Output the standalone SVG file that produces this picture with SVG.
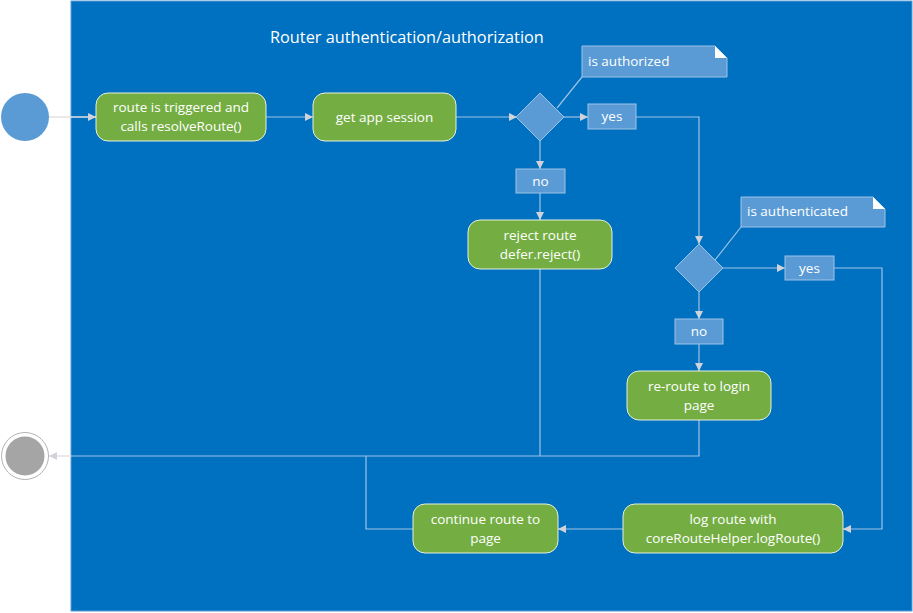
<svg xmlns="http://www.w3.org/2000/svg" width="913" height="613" viewBox="0 0 913 613">
<defs>
<marker id="arr" viewBox="0 0 10 10" refX="10" refY="5" markerWidth="8" markerHeight="8" markerUnits="userSpaceOnUse" orient="auto">
<path d="M0,0 L10,5 L0,10 z" fill="#D0D4DA"/>
</marker>
<style>
text{font-family:"Open Sans","Noto Sans","Liberation Sans",sans-serif;fill:#ffffff;}
.t{font-size:13.5px;text-anchor:middle;}
.n{font-size:13.5px;}
.act{fill:#74AE42;stroke:#E6F0DE;stroke-width:1;}
.dec{fill:#5B9BD5;stroke:#9DC3E6;stroke-width:1;}
.lbl{fill:#5B9BD5;stroke:#9DC3E6;stroke-width:1;}
.c{fill:none;stroke:#9DC3E6;stroke-width:1.2;}
.ca{fill:none;stroke:#9DC3E6;stroke-width:1.2;marker-end:url(#arr);}
</style>
</defs>
<rect x="0" y="0" width="913" height="613" fill="#ffffff"/>
<rect id="panel" x="71" y="1" width="841" height="610" fill="#0070C0" stroke="#5B9BD5" stroke-width="1"/>
<text x="270" y="43" style="font-size:16.3px">Router authentication/authorization</text>

<g id="connectors">
<path d="M49,117 H96" fill="none" stroke="#E3E3E3" stroke-width="1.5" marker-end="url(#arr)"/>
<path class="ca" d="M266,117 H313"/>
<path class="ca" d="M456,117 H517"/>
<path class="ca" d="M564,117 H588"/>
<path class="ca" d="M540,141 V169"/>
<path class="ca" d="M540,193 V220"/>
<path class="c" d="M557,108 L582,77"/>
<path class="ca" d="M636,117 H699 V244"/>
<path class="ca" d="M723,268 H785"/>
<path class="c" d="M715,260 L741,227"/>
<path class="ca" d="M699,292 V319"/>
<path class="ca" d="M699,344 V371"/>
<path class="ca" d="M834,268 H882 V529 H843"/>
<path class="ca" d="M623,529 H558"/>
<path class="c" d="M540,269 V456"/>
<path class="c" d="M699,420 V456 H71"/>
<path class="c" d="M413,529 H366 V456"/>
<path d="M71,456 H49" fill="none" stroke="#E3E3E3" stroke-width="1.5" marker-end="url(#arr)"/>
</g>

<g id="start"><circle cx="25" cy="117" r="24" fill="#5B9BD5"/></g>
<g id="end"><circle cx="25" cy="456" r="23.5" fill="#ffffff" stroke="#B4B4B4" stroke-width="1"/><circle cx="25" cy="456" r="19.5" fill="#A5A5A5"/></g>

<g id="n-trigger"><rect class="act" x="96" y="93" width="170" height="48" rx="12"/>
<text class="t" x="181" y="112">route is triggered and</text><text class="t" x="181" y="131">calls resolveRoute()</text></g>
<g id="n-session"><rect class="act" x="313" y="93" width="143" height="48" rx="12"/>
<text class="t" x="384.5" y="122">get app session</text></g>
<g id="d-authorized"><path class="dec" d="M540,93 L564,117 L540,141 L516,117 z"/></g>
<g id="note-authorized"><path class="lbl" d="M582,46 H715 L727,58 V77 H582 z"/><path d="M715,46 L727,58 H715 z" fill="#ffffff"/>
<text class="n" x="588" y="66">is authorized</text></g>
<g id="l-yes1"><rect class="lbl" x="588" y="104" width="48" height="25"/><text class="t" x="612" y="121">yes</text></g>
<g id="l-no1"><rect class="lbl" x="516" y="169" width="49" height="24"/><text class="t" x="540.5" y="186">no</text></g>
<g id="n-reject"><rect class="act" x="468" y="220" width="144" height="49" rx="12"/>
<text class="t" x="540" y="240">reject route</text><text class="t" x="540" y="259">defer.reject()</text></g>
<g id="d-authenticated"><path class="dec" d="M699,244 L723,268 L699,292 L675,268 z"/></g>
<g id="note-authenticated"><path class="lbl" d="M741,197 H873 L885,209 V227 H741 z"/><path d="M873,197 L885,209 H873 z" fill="#ffffff"/>
<text class="n" x="747" y="216">is authenticated</text></g>
<g id="l-yes2"><rect class="lbl" x="785" y="256" width="49" height="24"/><text class="t" x="809.5" y="273">yes</text></g>
<g id="l-no2"><rect class="lbl" x="675" y="319" width="48" height="25"/><text class="t" x="699" y="336">no</text></g>
<g id="n-reroute"><rect class="act" x="627" y="371" width="144" height="49" rx="12"/>
<text class="t" x="699" y="391">re-route to login</text><text class="t" x="699" y="410">page</text></g>
<g id="n-log"><rect class="act" x="623" y="504" width="220" height="49" rx="12"/>
<text class="t" x="733" y="524">log route with</text><text class="t" x="733" y="543">coreRouteHelper.logRoute()</text></g>
<g id="n-continue"><rect class="act" x="413" y="504" width="145" height="49" rx="12"/>
<text class="t" x="485.5" y="524">continue route to</text><text class="t" x="485.5" y="543">page</text></g>
</svg>
